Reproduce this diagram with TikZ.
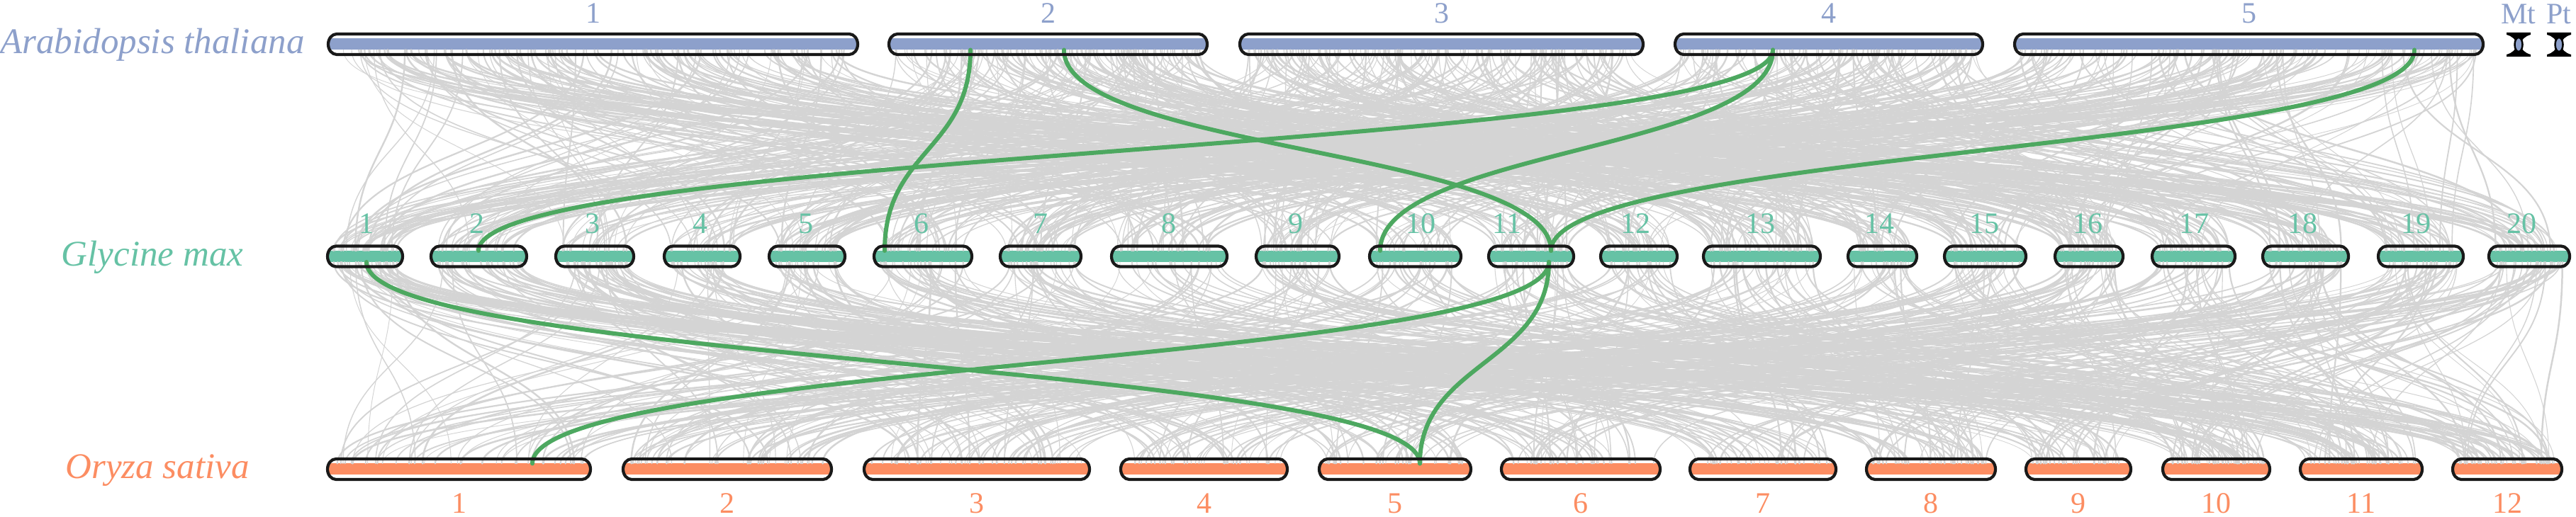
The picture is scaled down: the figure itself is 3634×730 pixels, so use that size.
\documentclass[tikz,border=0pt]{standalone}
\usepackage{fontspec}
\setmainfont{Liberation Serif}
\definecolor{atcol}{HTML}{8DA0CB}
\definecolor{gmcol}{HTML}{66C2A5}
\definecolor{oscol}{HTML}{FC8D62}
\definecolor{hlcol}{HTML}{4DA860}
\definecolor{syncol}{HTML}{D4D4D4}
\tikzset{
  splabel/.style={font=\fontsize{51}{55}\selectfont\itshape, anchor=base, inner sep=0pt},
  numlabel/.style={font=\fontsize{42}{45}\selectfont, anchor=base, inner sep=0pt},
  synline/.style={draw=syncol, line cap=round},
  hlline/.style={draw=hlcol, line width=6pt, line cap=round},
  chrout/.style={draw=black!90, line width=4.2pt, line join=round}
}
\def\AtL{{463,1254,1749,2363,2842}}
\def\AtR{{1210,1703,2318,2797,3503}}
\def\GmL{{462,608,784,937,1085,1233,1411,1568,1772,1932,2100,2258,2403,2607,2743,2899,3036,3192,3355,3511}}
\def\GmR{{568,743,894,1044,1192,1371,1525,1731,1889,2061,2220,2366,2568,2704,2858,2995,3153,3313,3475,3625}}
\def\OsL{{462,879,1219,1581,1861,2118,2384,2633,2858,3051,3245,3460}}
\def\OsR{{833,1173,1537,1816,2075,2342,2590,2815,3006,3202,3417,3614}}
\begin{document}
\begin{tikzpicture}[x=1pt,y=1pt]
\useasboundingbox (0,0) rectangle (3634,730);
\fill[white] (0,0) rectangle (3634,730);

% ---- bar bodies (white + coloured band)
\foreach \l/\r in {463/1210,1254/1703,1749/2318,2363/2797,2842/3503}{
  \fill[white] (\l+12,682) -- (\r-12,682) arc[start angle=90,end angle=-90,x radius=12,y radius=14.5] -- (\l+12,653) arc[start angle=270,end angle=90,x radius=12,y radius=14.5] -- cycle;
  \fill[atcol] (\l+1.5,659.5) rectangle (\r-1.5,675.5);
}
\foreach \l/\r in {462/568,608/743,784/894,937/1044,1085/1192,1233/1371,1411/1525,1568/1731,1772/1889,1932/2061,2100/2220,2258/2366,2403/2568,2607/2704,2743/2858,2899/2995,3036/3153,3192/3313,3355/3475,3511/3625}{
  \fill[white] (\l+12,382.5) -- (\r-12,382.5) arc[start angle=90,end angle=-90,x radius=12,y radius=14.5] -- (\l+12,353.5) arc[start angle=270,end angle=90,x radius=12,y radius=14.5] -- cycle;
  \fill[gmcol] (\l+1.5,360) rectangle (\r-1.5,376);
}
\foreach \l/\r in {462/833,879/1173,1219/1537,1581/1816,1861/2075,2118/2342,2384/2590,2633/2815,2858/3006,3051/3202,3245/3417,3460/3614}{
  \fill[white] (\l+12,82) -- (\r-12,82) arc[start angle=90,end angle=-90,x radius=12,y radius=14.5] -- (\l+12,53) arc[start angle=270,end angle=90,x radius=12,y radius=14.5] -- cycle;
  \fill[oscol] (\l+1.5,59.5) rectangle (\r-1.5,75.5);
}

% ---- grey synteny links
\pgfmathsetseed{4242}
\foreach \k in {1,...,680}{
  \pgfmathtruncatemacro\ia{random(0,4)}
  \pgfmathtruncatemacro\ib{random(0,19)}
  \pgfmathsetmacro\xa{\AtL[\ia]+8+rnd*(\AtR[\ia]-\AtL[\ia]-16)}
  \pgfmathsetmacro\xb{\GmL[\ib]+8+rnd*(\GmR[\ib]-\GmL[\ib]-16)}
  \pgfmathsetmacro\lw{0.8+1.8*rnd}
  \draw[synline, line width=\lw pt] (\xa,659.5) .. controls (\xa,517.75) and (\xb,517.75) .. (\xb,376);
}
\foreach \k in {1,...,560}{
  \pgfmathtruncatemacro\ia{random(0,19)}
  \pgfmathtruncatemacro\ib{random(0,11)}
  \pgfmathsetmacro\xa{\GmL[\ia]+8+rnd*(\GmR[\ia]-\GmL[\ia]-16)}
  \pgfmathsetmacro\xb{\OsL[\ib]+8+rnd*(\OsR[\ib]-\OsL[\ib]-16)}
  \pgfmathsetmacro\lw{0.8+1.8*rnd}
  \draw[synline, line width=\lw pt] (\xa,360) .. controls (\xa,217.75) and (\xb,217.75) .. (\xb,75.5);
}

% ---- highlighted links
\coordinate (a2a) at (1369,659.5);
\coordinate (a2b) at (1501,659.5);
\coordinate (a4)  at (2501,659.5);
\coordinate (a5)  at (3406,659.5);
\coordinate (g6t) at (1248,376);
\coordinate (g11t) at (2188,376);
\coordinate (g2t) at (675,376);
\coordinate (g10t) at (1947,376);
\coordinate (g1b) at (517,360);
\coordinate (g11b) at (2185,360);
\coordinate (o5) at (2003,75.5);
\coordinate (o1) at (751,75.5);
\draw[hlline] (a2a) .. controls (1369,517.75) and (1248,517.75) .. (g6t);
\draw[hlline] (a2b) .. controls (1501,517.75) and (2188,517.75) .. (g11t);
\draw[hlline] (a4) .. controls (2501,517.75) and (675,517.75) .. (g2t);
\draw[hlline] (a4) .. controls (2501,517.75) and (1947,517.75) .. (g10t);
\draw[hlline] (a5) .. controls (3406,517.75) and (2188,517.75) .. (g11t);
\draw[hlline] (g1b) .. controls (517,217.75) and (2003,217.75) .. (o5);
\draw[hlline] (g11b) .. controls (2185,217.75) and (751,217.75) .. (o1);
\draw[hlline] (g11b) .. controls (2185,217.75) and (2003,217.75) .. (o5);

% ---- outlines
\foreach \l/\r in {463/1210,1254/1703,1749/2318,2363/2797,2842/3503}{
  \draw[chrout] (\l+12,682) -- (\r-12,682) arc[start angle=90,end angle=-90,x radius=12,y radius=14.5] -- (\l+12,653) arc[start angle=270,end angle=90,x radius=12,y radius=14.5] -- cycle;
}
\foreach \l/\r in {462/568,608/743,784/894,937/1044,1085/1192,1233/1371,1411/1525,1568/1731,1772/1889,1932/2061,2100/2220,2258/2366,2403/2568,2607/2704,2743/2858,2899/2995,3036/3153,3192/3313,3355/3475,3511/3625}{
  \draw[chrout] (\l+12,382.5) -- (\r-12,382.5) arc[start angle=90,end angle=-90,x radius=12,y radius=14.5] -- (\l+12,353.5) arc[start angle=270,end angle=90,x radius=12,y radius=14.5] -- cycle;
}
\foreach \l/\r in {462/833,879/1173,1219/1537,1581/1816,1861/2075,2118/2342,2384/2590,2633/2815,2858/3006,3051/3202,3245/3417,3460/3614}{
  \draw[chrout] (\l+12,82) -- (\r-12,82) arc[start angle=90,end angle=-90,x radius=12,y radius=14.5] -- (\l+12,53) arc[start angle=270,end angle=90,x radius=12,y radius=14.5] -- cycle;
}

% ---- Mt / Pt symbols
\foreach \c/\nm in {3553/Mt,3610/Pt}{
  \fill[black] (\c-17,684) -- (\c+17,684) -- (\c+17,681) .. controls (\c+9,679) and (\c+4,674) .. (\c+2,667) -- (\c-2,667) .. controls (\c-4,674) and (\c-9,679) .. (\c-17,681) -- cycle;
  \fill[black] (\c-17,650) -- (\c+17,650) -- (\c+17,653) .. controls (\c+9,655) and (\c+4,660) .. (\c+2,667) -- (\c-2,667) .. controls (\c-4,660) and (\c-9,655) .. (\c-17,653) -- cycle;
  \filldraw[fill=atcol, draw=black, line width=2.5pt] (\c,667) ellipse[x radius=5.5, y radius=10];
  \node[numlabel, text=atcol] (lab\nm) at (\c,696) {\nm};
}

% ---- labels
\node[splabel, text=atcol] (spAt) at (215,654) {Arabidopsis thaliana};
\node[splabel, text=gmcol] (spGm) at (215,354) {Glycine max};
\node[splabel, text=oscol] (spOs) at (222,54) {Oryza sativa};

\foreach \x [count=\i] in {836.5,1478.5,2033.5,2580,3172.5}{
  \node[numlabel, text=atcol] (at\i) at (\x,697) {\i};
}
\foreach \x [count=\i] in {517,673,836,988,1137,1300,1468,1649,1828,2004,2126,2307,2483,2651,2799,2945,3095,3248,3408,3557}{
  \node[numlabel, text=gmcol] (gm\i) at (\x,400) {\i};
}
\foreach \x [count=\i] in {647.5,1026,1378,1698.5,1968,2230,2487,2724,2932,3126.5,3331,3537}{
  \node[numlabel, text=oscol] (os\i) at (\x,5) {\i};
}
\end{tikzpicture}
\end{document}
